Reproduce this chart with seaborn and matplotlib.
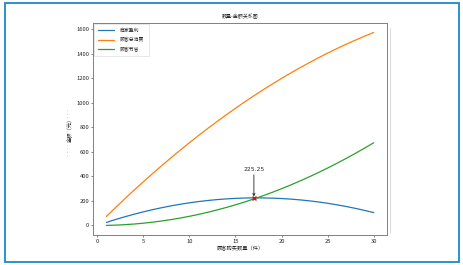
import matplotlib
matplotlib.use("Agg")
import matplotlib.pyplot as plt
import seaborn as sns
import pandas as pd
from matplotlib.lines import Line2D
from matplotlib.patches import Rectangle

quantity = list(range(1, 31))
merchant_profit = [25.25, 49, 71.25, 92, 111.25, 129, 145.25, 160, 173.25, 185,
                   195.25, 204, 211.25, 217, 221.25, 224, 225.25, 225, 223.25, 220,
                   215.25, 209, 201.25, 192, 181.25, 169, 155.25, 140, 123.25, 105]
customer_spend = [74.25, 147, 218.25, 288, 356.25, 423, 488.25, 552, 614.25, 675,
                  734.25, 792, 848.25, 903, 956.25, 1008, 1058.25, 1107, 1154.25, 1200,
                  1244.25, 1287, 1328.25, 1368, 1406.25, 1443, 1478.25, 1512, 1544.25, 1575]
customer_saving = [0.75, 3, 6.75, 12, 18.75, 27, 36.75, 48, 60.75, 75,
                   90.75, 108, 126.75, 147, 168.75, 192, 216.75, 243, 270.75, 300,
                   330.75, 363, 396.75, 432, 468.75, 507, 546.75, 588, 630.75, 675]
labels = ["商家盈利", "顾客总消费", "顾客节省"]
best_x = 17
best_y = 225.25

sns.set_style("ticks")
plt.rcParams['font.family'] = ['Noto Sans CJK SC', 'DejaVu Sans']
plt.rcParams['axes.unicode_minus'] = False

fig = plt.figure(figsize=(4.63, 2.65), dpi=100)
ax = fig.add_axes([0.201, 0.113, 0.635, 0.801])

df = pd.DataFrame({"x": quantity, "p": merchant_profit, "s": customer_spend, "v": customer_saving})
colors = ["#1f77b4", "#ff7f0e", "#2ca02c"]
for col, lab, c in zip(["p", "s", "v"], labels, colors):
    sns.lineplot(data=df, x="x", y=col, ax=ax, label=lab, color=c, linewidth=0.9)

ax.scatter([best_x], [best_y], color="red", marker="x", s=8, linewidths=1.0, zorder=5)
ax.annotate(f"{best_y:.2f}", xy=(best_x, best_y), xytext=(best_x, 440),
            ha="center", va="bottom", fontsize=4.3, family=['DejaVu Sans'],
            arrowprops=dict(arrowstyle="->", color="#222222", lw=0.6, shrinkA=0, shrinkB=1,
                            mutation_scale=4))

ax.set_title("数量-金额关系图", fontsize=3.6, pad=3)
ax.set_xlabel("顾客购买数量（件）", fontsize=3.8, labelpad=1.5)
ax.set_ylabel("金额（元）", fontsize=3.8, labelpad=2)
ax.tick_params(labelsize=4.2, length=1.5, width=0.4, pad=1.2)
ax.set_xticks([0, 5, 10, 15, 20, 25, 30])
ax.set_yticks([0, 200, 400, 600, 800, 1000, 1200, 1400, 1600])
for sp in ax.spines.values():
    sp.set_visible(True)
    sp.set_linewidth(0.7)
    sp.set_color("#808080")

leg = ax.legend(loc="upper left", fontsize=3.5, frameon=True, handlelength=3.2,
                borderpad=0.6, labelspacing=0.9, handletextpad=1.2)
leg.get_frame().set_linewidth(0.4)
leg.get_frame().set_edgecolor("#cccccc")
leg.get_frame().set_boxstyle("square")

# frame decorations
fig.patches.append(Rectangle((5/463, 1-262/265), 454/463, 259/265, transform=fig.transFigure,
                             fill=False, edgecolor="#1e88c8", linewidth=1.3))
fig.lines.append(Line2D([390/463, 390/463], [1-28/265, 1-233/265], transform=fig.transFigure,
                        color="#dddddd", linewidth=0.8))
fig.lines.append(Line2D([67/463, 67/463], [1-110/265, 1-158/265], transform=fig.transFigure,
                        color="#aaaaaa", linewidth=0.5, linestyle=(0, (1, 4))))

fig.savefig("out.png", dpi=100)
